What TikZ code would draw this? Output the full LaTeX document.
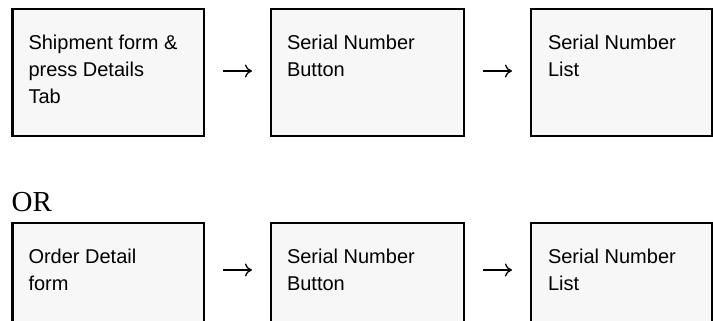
\documentclass[tikz,border=0pt]{standalone}
\usepackage{fontspec}
\setmainfont{Liberation Sans}
\newfontfamily\orserif{Liberation Serif}
\usetikzlibrary{arrows.meta}
\definecolor{boxfill}{HTML}{F7F7F7}
\newcommand\bxtext[2]{\parbox[c][127pt][t]{#1}{\vspace*{26pt}\raggedright\rule{0pt}{15pt}#2}}
\tikzset{
  stepbox/.style={draw=black, line width=2.5pt, fill=boxfill, inner sep=0pt, outer sep=0pt,
    minimum height=127pt, anchor=north west, font=\fontsize{20}{26.7}\selectfont},
  flow/.style={line width=1.3pt, -{To[length=7pt,width=13pt]}, shorten <=19pt, shorten >=19pt},
  ortext/.style={anchor=base west, inner sep=0pt, font=\orserif\fontsize{29}{34}\selectfont}
}
\begin{document}
\begin{tikzpicture}[x=1pt,y=1pt]
  \useasboundingbox (0,0) rectangle (713,321);
  \clip (0,0) rectangle (713,321);
  \fill[white] (0,0) rectangle (713,321);
  % top row
  \node[stepbox, minimum width=191.5pt] (a) at (12.5,312) {\bxtext{159.5pt}{Shipment form \&\\press Details\\Tab}};
  \node[stepbox, minimum width=193pt] (b) at (271,312) {\bxtext{161pt}{Serial Number\\Button}};
  \node[stepbox, minimum width=181pt] (c) at (531,312) {\bxtext{147pt}{Serial Number\\List}};
  \draw[flow] ([yshift=-62pt]a.north east) -- ([yshift=-62pt]b.north west);
  \draw[flow] ([yshift=-62pt]b.north east) -- ([yshift=-62pt]c.north west);
  % OR
  \node[ortext] (or) at (11.5,109) {OR};
  % bottom row
  \node[stepbox, minimum width=191.5pt] (d) at (12.5,98) {\bxtext{159.5pt}{Order Detail\\form}};
  \node[stepbox, minimum width=193pt] (e) at (271,98) {\bxtext{161pt}{Serial Number\\Button}};
  \node[stepbox, minimum width=181pt] (f) at (531,98) {\bxtext{147pt}{Serial Number\\List}};
  \draw[flow] ([yshift=-47pt]d.north east) -- ([yshift=-47pt]e.north west);
  \draw[flow] ([yshift=-47pt]e.north east) -- ([yshift=-47pt]f.north west);
\end{tikzpicture}
\end{document}
